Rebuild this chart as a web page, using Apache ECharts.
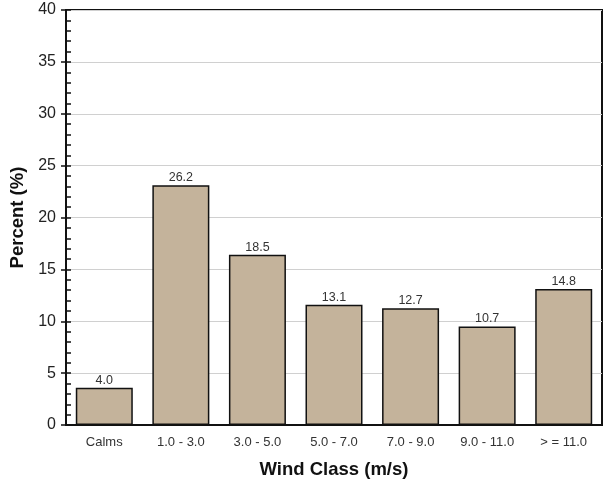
<!DOCTYPE html>
<html>
<head>
<meta charset="utf-8">
<script src="https://cdn.jsdelivr.net/npm/echarts@6/dist/echarts.min.js"></script>
<style>html,body{margin:0;padding:0;background:#fff}#c{width:608px;height:484px}</style>
</head>
<body>
<div id="c"></div>
<script>
var categories = ['Calms', '1.0 - 3.0', '3.0 - 5.0', '5.0 - 7.0', '7.0 - 9.0', '9.0 - 11.0', '> = 11.0'];
var barValues = [3.6, 23.1, 16.4, 11.6, 11.25, 9.5, 13.1];
var barLabels = ['4.0', '26.2', '18.5', '13.1', '12.7', '10.7', '14.8'];
var yMin = 0, yMax = 40, yStep = 5;

var chart = echarts.init(document.getElementById('c'), null, {renderer: 'canvas'});
chart.setOption({
  animation: false,
  backgroundColor: '#fff',
  grid: {left: 66, right: 6, top: 10, bottom: 59, show: true, borderColor: '#111', borderWidth: 2, backgroundColor: 'transparent'},
  xAxis: {
    type: 'category',
    data: categories,
    name: 'Wind Class (m/s)',
    nameLocation: 'middle',
    nameGap: 35,
    nameTextStyle: {fontFamily: 'Liberation Sans, Arial', fontWeight: 'bold', fontSize: 18.5, color: '#111'},
    axisLine: {lineStyle: {color: '#111', width: 2}},
    axisTick: {show: true, inside: true, alignWithLabel: true, length: 6, lineStyle: {color: '#111', width: 1.5}},
    axisLabel: {fontFamily: 'Liberation Sans Narrow, Arial Narrow, Liberation Sans', fontSize: 13, color: '#333', margin: 11}
  },
  yAxis: [{
    type: 'value',
    min: yMin, max: yMax, interval: yStep,
    name: 'Percent (%)',
    nameLocation: 'middle',
    nameGap: 32,
    nameTextStyle: {fontFamily: 'Liberation Sans, Arial', fontWeight: 'bold', fontSize: 18.5, color: '#111'},
    axisLine: {show: true, lineStyle: {color: '#111', width: 2}},
    axisTick: {show: true, inside: false, length: 5, lineStyle: {color: '#111', width: 1.5}},
    axisLabel: {fontFamily: 'Liberation Sans, Arial', fontSize: 16, color: '#222', margin: 10},
    splitLine: {show: true, lineStyle: {color: '#d0d0d0', width: 1}}
  }, {
    type: 'value',
    position: 'left',
    offset: 0,
    min: yMin, max: yMax, interval: 1,
    axisLine: {show: false},
    axisTick: {show: true, inside: true, length: 5, lineStyle: {color: '#111', width: 1.5}},
    axisLabel: {show: false},
    splitLine: {show: false}
  }],
  series: [{
    type: 'bar',
    data: barValues,
    barWidth: 57,
    itemStyle: {color: '#c4b39b', borderColor: '#111', borderWidth: 1.5},
    label: {
      show: true,
      position: 'top',
      distance: 1,
      formatter: function (p) { return barLabels[p.dataIndex]; },
      fontFamily: 'Liberation Sans Narrow, Arial Narrow, Liberation Sans',
      fontSize: 12.5,
      color: '#333'
    }
  }]
});
</script>
</body>
</html>
